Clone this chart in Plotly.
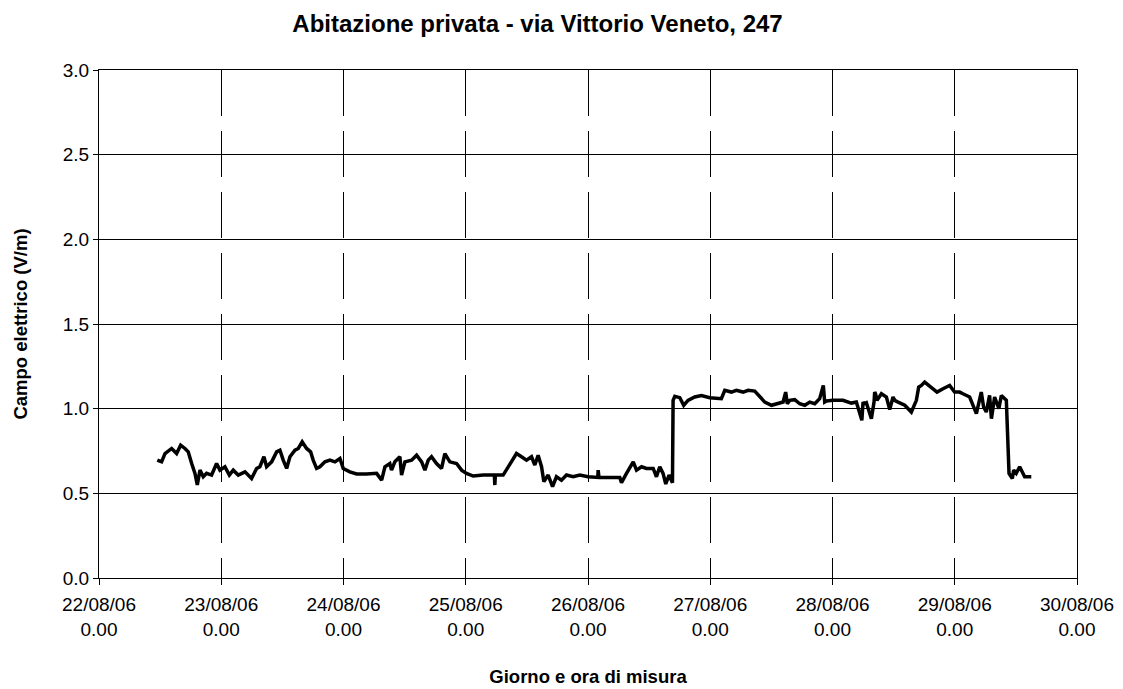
import pandas as pd
import plotly.graph_objects as go

# Time of measurement, expressed as fractional day of August 2006
giorno = [
    22.477, 22.512, 22.540, 22.594, 22.635, 22.668, 22.703, 22.730, 22.758, 22.785,
    22.804, 22.826, 22.853, 22.880, 22.921, 22.962, 22.989, 23.030, 23.066, 23.098,
    23.139, 23.194, 23.248, 23.289, 23.316, 23.349, 23.371, 23.412, 23.453, 23.480,
    23.507, 23.535, 23.562, 23.603, 23.630, 23.662, 23.698, 23.731, 23.752, 23.780,
    23.807, 23.848, 23.889, 23.930, 23.971, 23.998, 24.052, 24.107, 24.189, 24.271,
    24.312, 24.339, 24.379, 24.393, 24.420, 24.461, 24.475, 24.502, 24.557, 24.598,
    24.639, 24.666, 24.693, 24.720, 24.761, 24.802, 24.829, 24.870, 24.925, 24.966,
    25.006, 25.061, 25.143, 25.234, 25.238, 25.242, 25.306, 25.347, 25.388, 25.415,
    25.456, 25.497, 25.538, 25.565, 25.592, 25.620, 25.639, 25.674, 25.710, 25.742,
    25.783, 25.824, 25.878, 25.933, 26.001, 26.080, 26.083, 26.090, 26.260, 26.274,
    26.315, 26.370, 26.397, 26.438, 26.478, 26.533, 26.560, 26.587, 26.614, 26.636,
    26.663, 26.691, 26.696, 26.710, 26.751, 26.783, 26.818, 26.873, 26.928, 26.996,
    27.091, 27.119, 27.173, 27.214, 27.269, 27.310, 27.364, 27.405, 27.446, 27.501,
    27.555, 27.596, 27.617, 27.630, 27.650, 27.691, 27.732, 27.773, 27.814, 27.855,
    27.895, 27.925, 27.936, 27.950, 28.004, 28.086, 28.154, 28.195, 28.240, 28.250,
    28.260, 28.277, 28.318, 28.340, 28.345, 28.352, 28.364, 28.400, 28.441, 28.468,
    28.495, 28.509, 28.536, 28.591, 28.645, 28.686, 28.705, 28.727, 28.754, 28.795,
    28.855, 28.904, 28.958, 28.999, 29.040, 29.067, 29.122, 29.177, 29.217, 29.236,
    29.258, 29.285, 29.300, 29.326, 29.361, 29.381, 29.422, 29.444, 29.471, 29.482,
    29.503, 29.531, 29.572, 29.626, 29.653, 29.667,
]

# Electric field (V/m)
campo = [
    0.696, 0.686, 0.735, 0.765, 0.735, 0.784, 0.765, 0.745, 0.676, 0.618,
    0.550, 0.637, 0.598, 0.618, 0.608, 0.676, 0.637, 0.657, 0.608, 0.637,
    0.608, 0.627, 0.588, 0.647, 0.657, 0.716, 0.657, 0.686, 0.745, 0.755,
    0.696, 0.647, 0.716, 0.755, 0.765, 0.804, 0.765, 0.745, 0.696, 0.647,
    0.657, 0.686, 0.696, 0.686, 0.706, 0.647, 0.627, 0.614, 0.614, 0.618,
    0.578, 0.657, 0.676, 0.637, 0.686, 0.716, 0.608, 0.686, 0.696, 0.725,
    0.686, 0.637, 0.696, 0.716, 0.676, 0.647, 0.735, 0.686, 0.676, 0.637,
    0.618, 0.602, 0.608, 0.608, 0.549, 0.608, 0.608, 0.657, 0.696, 0.735,
    0.716, 0.696, 0.716, 0.667, 0.725, 0.657, 0.569, 0.608, 0.539, 0.598,
    0.578, 0.608, 0.598, 0.608, 0.598, 0.594, 0.637, 0.594, 0.594, 0.563,
    0.618, 0.686, 0.637, 0.657, 0.647, 0.647, 0.598, 0.657, 0.618, 0.555,
    0.608, 0.563, 1.049, 1.073, 1.065, 1.020, 1.049, 1.069, 1.078, 1.065,
    1.059, 1.108, 1.098, 1.108, 1.098, 1.108, 1.104, 1.069, 1.039, 1.020,
    1.033, 1.039, 1.098, 1.029, 1.049, 1.053, 1.029, 1.020, 1.039, 1.029,
    1.059, 1.137, 1.039, 1.045, 1.049, 1.049, 1.033, 1.039, 0.931, 1.039,
    1.029, 1.035, 0.941, 1.040, 1.098, 1.088, 1.049, 1.088, 1.069, 0.994,
    1.069, 1.049, 1.039, 1.020, 0.980, 1.049, 1.127, 1.137, 1.157, 1.131,
    1.098, 1.118, 1.137, 1.098, 1.098, 1.088, 1.069, 0.971, 1.098, 1.010,
    0.980, 1.078, 0.941, 1.069, 1.000, 1.078, 1.049, 0.618, 0.588, 0.637,
    0.618, 0.657, 0.598, 0.598,
]

tick_days = [22, 23, 24, 25, 26, 27, 28, 29, 30]
tick_labels = ["22/08/06<br>0.00", "23/08/06<br>0.00", "24/08/06<br>0.00",
               "25/08/06<br>0.00", "26/08/06<br>0.00", "27/08/06<br>0.00",
               "28/08/06<br>0.00", "29/08/06<br>0.00", "30/08/06<br>0.00"]
y_ticks = [0, 0.5, 1.0, 1.5, 2.0, 2.5, 3.0]
y_labels = ["0.0", "0.5", "1.0", "1.5", "2.0", "2.5", "3.0"]

base = pd.Timestamp("2006-08-01")
def to_dt(d):
    return base + pd.to_timedelta(d - 1, unit="D")

x_dt = [to_dt(d) for d in giorno]
tick_dt = [to_dt(d) for d in tick_days]

FONT = "Liberation Sans, Arial, sans-serif"

fig = go.Figure()
fig.add_trace(go.Scatter(
    x=x_dt, y=campo, mode="lines",
    line=dict(color="black", width=3.5),
    showlegend=False,
))

fig.update_layout(
    width=1123, height=689,
    paper_bgcolor="white", plot_bgcolor="white",
    margin=dict(l=91, r=54, t=62, b=119),
    font=dict(family=FONT, size=19, color="black"),
    title=dict(text="<b>Abitazione privata - via Vittorio Veneto, 247</b>",
               x=0.4715, xanchor="center",
               y=0.978, yanchor="middle",
               font=dict(family=FONT, size=24, color="black")),
    xaxis=dict(
        type="date",
        range=[tick_dt[0], tick_dt[-1]],
        tickmode="array", tickvals=tick_dt, ticktext=tick_labels,
        showgrid=True, gridcolor="black", gridwidth=1, griddash="46px,15px",
        showline=True, linecolor="black", linewidth=1, mirror=True,
        ticks="outside", ticklen=6, tickcolor="black",
        ticklabelstandoff=3,
        tickfont=dict(family=FONT, size=19),
        zeroline=False,
        title=dict(text="<b>Giorno e ora di misura</b>", standoff=31,
                   font=dict(family=FONT, size=18.5)),
    ),
    yaxis=dict(
        range=[0, 3], tickmode="array",
        tickvals=y_ticks, ticktext=y_labels,
        showgrid=True, gridcolor="black", gridwidth=1,
        showline=True, linecolor="black", linewidth=1, mirror=True,
        ticks="outside", ticklen=5, tickcolor="black",
        tickfont=dict(family=FONT, size=19),
        zeroline=False,
        title=dict(text="<b>Campo elettrico (V/m)</b>", standoff=30,
                   font=dict(family=FONT, size=18.5)),
    ),
)

fig.write_html("out.html")
